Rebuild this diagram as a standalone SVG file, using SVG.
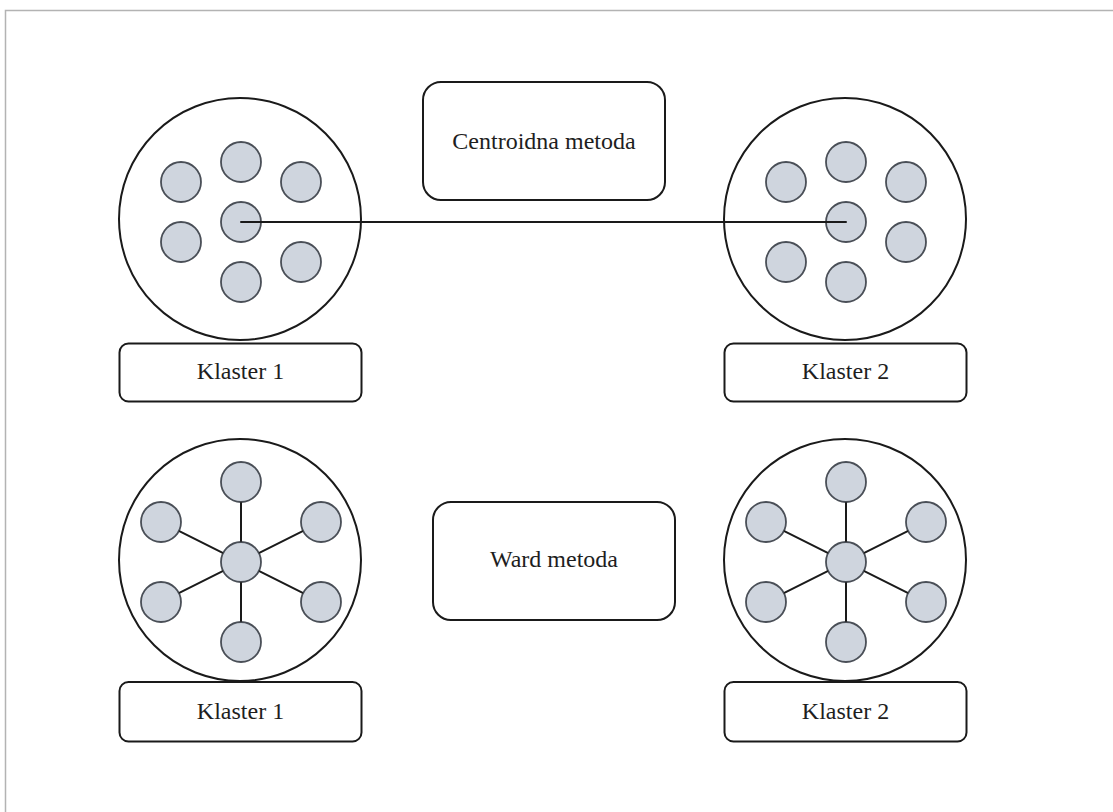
<svg xmlns="http://www.w3.org/2000/svg" width="1113" height="812" viewBox="0 0 1113 812">
  <style>
    .frame { fill: none; stroke: #b3b3b3; stroke-width: 1.5; }
    .cluster { fill: #ffffff; stroke: #1a1a1a; stroke-width: 2; }
    .pt { fill: #cfd5de; stroke: #4a4f57; stroke-width: 1.8; }
    .box { fill: #ffffff; stroke: #1a1a1a; stroke-width: 2; }
    .label { font-family: "Liberation Serif", "Times New Roman", serif; font-size: 24px; fill: #1e1e1e; text-anchor: middle; }
    .link { stroke: #1a1a1a; stroke-width: 2; fill: none; stroke-linecap: round; }
  </style>

  <rect width="1113" height="812" fill="#ffffff"/>
  <path class="frame" d="M5.5 812 V10.5 H1113"/>

  <!-- Centroid method: cluster 1 -->
  <g id="centroid-cluster-1">
    <circle class="cluster" cx="240" cy="219" r="121"/>
    <circle class="pt" cx="241" cy="162" r="20"/>
    <circle class="pt" cx="181" cy="182" r="20"/>
    <circle class="pt" cx="301" cy="182" r="20"/>
    <circle class="pt" cx="241" cy="222" r="20"/>
    <circle class="pt" cx="181" cy="242" r="20"/>
    <circle class="pt" cx="301" cy="262" r="20"/>
    <circle class="pt" cx="241" cy="282" r="20"/>
  </g>

  <!-- Centroid method: cluster 2 -->
  <g id="centroid-cluster-2">
    <circle class="cluster" cx="845" cy="219" r="121"/>
    <circle class="pt" cx="846" cy="162" r="20"/>
    <circle class="pt" cx="786" cy="182" r="20"/>
    <circle class="pt" cx="906" cy="182" r="20"/>
    <circle class="pt" cx="846" cy="222" r="20"/>
    <circle class="pt" cx="906" cy="242" r="20"/>
    <circle class="pt" cx="786" cy="262" r="20"/>
    <circle class="pt" cx="846" cy="282" r="20"/>
  </g>

  <g id="centroid-title">
    <rect class="box" x="423" y="82" width="242" height="118" rx="18"/>
    <text class="label" x="544" y="149">Centroidna metoda</text>
  </g>

  <g id="centroid-label-1">
    <rect class="box" x="119.5" y="343.5" width="242" height="58" rx="9"/>
    <text class="label" x="240.5" y="379">Klaster 1</text>
  </g>

  <g id="centroid-label-2">
    <rect class="box" x="724.5" y="343.5" width="242" height="58" rx="9"/>
    <text class="label" x="845.5" y="379">Klaster 2</text>
  </g>

  <!-- Ward method: cluster 1 -->
  <g id="ward-cluster-1">
    <circle class="cluster" cx="240" cy="560" r="121"/>
    <circle class="pt" cx="241" cy="482" r="20"/>
    <circle class="pt" cx="161" cy="522" r="20"/>
    <circle class="pt" cx="321" cy="522" r="20"/>
    <circle class="pt" cx="241" cy="562" r="20"/>
    <circle class="pt" cx="161" cy="602" r="20"/>
    <circle class="pt" cx="321" cy="602" r="20"/>
    <circle class="pt" cx="241" cy="642" r="20"/>
  </g>

  <!-- Ward method: cluster 2 -->
  <g id="ward-cluster-2">
    <circle class="cluster" cx="845" cy="560" r="121"/>
    <circle class="pt" cx="846" cy="482" r="20"/>
    <circle class="pt" cx="766" cy="522" r="20"/>
    <circle class="pt" cx="926" cy="522" r="20"/>
    <circle class="pt" cx="846" cy="562" r="20"/>
    <circle class="pt" cx="766" cy="602" r="20"/>
    <circle class="pt" cx="926" cy="602" r="20"/>
    <circle class="pt" cx="846" cy="642" r="20"/>
  </g>

  <g id="ward-title">
    <rect class="box" x="433" y="502" width="242" height="118" rx="18"/>
    <text class="label" x="554" y="567">Ward metoda</text>
  </g>

  <g id="ward-label-1">
    <rect class="box" x="119.5" y="682" width="242" height="59.5" rx="9"/>
    <text class="label" x="240.5" y="719">Klaster 1</text>
  </g>

  <g id="ward-label-2">
    <rect class="box" x="724.5" y="682" width="242" height="59.5" rx="9"/>
    <text class="label" x="845.5" y="719">Klaster 2</text>
  </g>

  <!-- Connectors: centroid distance and Ward spokes (trimmed to point edges) -->
  <g id="connectors">
    <line class="link" x1="241" y1="222" x2="846" y2="222"/>

    <line class="link" x1="241" y1="541" x2="241" y2="503"/>
    <line class="link" x1="241" y1="583" x2="241" y2="621"/>
    <line class="link" x1="222.2" y1="552.6" x2="179.8" y2="531.4"/>
    <line class="link" x1="259.8" y1="552.6" x2="302.2" y2="531.4"/>
    <line class="link" x1="222.2" y1="571.4" x2="179.8" y2="592.6"/>
    <line class="link" x1="259.8" y1="571.4" x2="302.2" y2="592.6"/>

    <line class="link" x1="846" y1="541" x2="846" y2="503"/>
    <line class="link" x1="846" y1="583" x2="846" y2="621"/>
    <line class="link" x1="827.2" y1="552.6" x2="784.8" y2="531.4"/>
    <line class="link" x1="864.8" y1="552.6" x2="907.2" y2="531.4"/>
    <line class="link" x1="827.2" y1="571.4" x2="784.8" y2="592.6"/>
    <line class="link" x1="864.8" y1="571.4" x2="907.2" y2="592.6"/>
  </g>
</svg>
